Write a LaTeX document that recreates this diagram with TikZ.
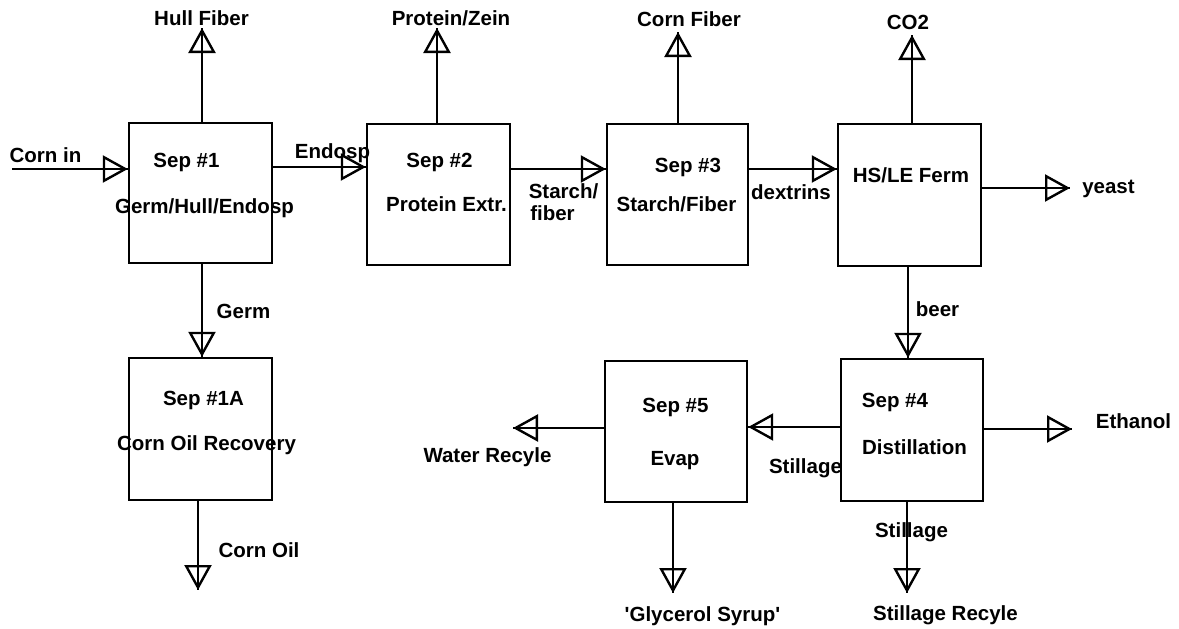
\documentclass[tikz,border=0pt]{standalone}
\usepackage{fontspec}
\setmainfont{Liberation Sans}
\usetikzlibrary{arrows.meta}
\begin{document}
\begin{tikzpicture}[x=1pt,y=-1pt,
  every node/.style={font=\bfseries\fontsize{20.5}{24}\selectfont, inner sep=0pt},
  box/.style={draw, line width=2.4pt, minimum width=142pt, minimum height=141pt},
  lbl/.style={anchor=base},
  flow/.style={line width=2.4pt, -{Triangle[open, length=25pt, width=27pt]}, postaction={draw, arrows=-}}
]
\fill[white] (0,0) rectangle (1179,629);
\useasboundingbox (0,0) rectangle (1179,629);

% boxes
\node[box, minimum width=143pt, minimum height=140pt] (b1) at (200.5,193) {};
\node[box, minimum width=143pt] (b2) at (438.5,194.5) {};
\node[box, minimum width=141pt] (b3) at (677.5,194.5) {};
\node[box, minimum width=143pt, minimum height=142pt] (b4) at (909.5,195) {};
\node[box, minimum width=143pt, minimum height=142pt] (b1a) at (200.5,429) {};
\node[box] (b5) at (676,431.5) {};
\node[box, minimum height=142pt] (b6) at (912,430) {};

% texts inside boxes
\node[lbl] (t1a) at (186.5,167) {Sep \#1};
\node[lbl] (t1b) at (204.5,213) {Germ/Hull/Endosp};
\node[lbl] (t2a) at (439.5,167) {Sep \#2};
\node[lbl] (t2b) at (446.5,211) {Protein Extr.};
\node[lbl] (t3a) at (688,172) {Sep \#3};
\node[lbl] (t3b) at (676.5,211) {Starch/Fiber};
\node[lbl] (t4a) at (911,182) {HS/LE Ferm};
\node[lbl] (t1Aa) at (203.5,405) {Sep \#1A};
\node[lbl] (t1Ab) at (206.5,450) {Corn Oil Recovery};
\node[lbl] (t5a) at (675.5,412) {Sep \#5};
\node[lbl] (t5b) at (675,465) {Evap};
\node[lbl] (t6a) at (895,407) {Sep \#4};
\node[lbl] (t6b) at (914.5,454) {Distillation};

% stream labels
\node[lbl] (lcorn) at (45.5,162) {Corn in};
\node[lbl] (lhull) at (201.5,25) {Hull Fiber};
\node[lbl] (lendo) at (332.5,158) {Endosp};
\node[lbl] (lprot) at (451,25) {Protein/Zein};
\node[lbl] (lsf1) at (563.5,198) {Starch/};
\node[lbl] (lsf2) at (552.5,220) {fiber};
\node[lbl] (lcf) at (689,27) {Corn Fiber};
\node[lbl] (ldex) at (791,199) {dextrins};
\node[lbl] (lco2) at (908,30) {CO2};
\node[lbl] (lyeast) at (1108.5,193) {yeast};
\node[lbl] (lbeer) at (937.5,316) {beer};
\node[lbl] (lgerm) at (243.5,318) {Germ};
\node[lbl] (loil) at (259,557) {Corn Oil};
\node[lbl] (lwater) at (487.5,462) {Water Recyle};
\node[lbl] (lstl) at (805.5,473) {Stillage};
\node[lbl] (leth) at (1133.5,428) {Ethanol};
\node[lbl] (lstb) at (911.5,537) {Stillage};
\node[lbl] (lgly) at (702.5,621) {\textquotesingle Glycerol Syrup\textquotesingle};
\node[lbl] (lstr) at (945.5,620) {Stillage Recyle};

% free ends / helper coordinates
\coordinate (cin) at (12,169);
\coordinate (hf) at (202,28);
\coordinate (e1) at (0,167);
\coordinate (g1) at (202,0);
\coordinate (co) at (198,590);
\coordinate (pz) at (437,28);
\coordinate (sf) at (0,169);
\coordinate (cf) at (678,32);
\coordinate (dx) at (0,169);
\coordinate (co2) at (912,35);
\coordinate (ye) at (1070,188);
\coordinate (be) at (908,0);
\coordinate (et) at (1072,429);
\coordinate (st) at (0,427);
\coordinate (wr) at (513,428);
\coordinate (gs) at (673,593);
\coordinate (sr) at (907,593);

% connectors
\draw[flow] (cin) -- (cin -| b1.west);
\draw[flow] (hf |- b1.north) -- (hf);
\draw[flow] (e1 -| b1.east) -- (e1 -| b2.west);
\draw[flow] (g1 |- b1.south) -- (g1 |- b1a.north);
\draw[flow] (co |- b1a.south) -- (co);
\draw[flow] (pz |- b2.north) -- (pz);
\draw[flow] (sf -| b2.east) -- (sf -| b3.west);
\draw[flow] (cf |- b3.north) -- (cf);
\draw[flow] (dx -| b3.east) -- (dx -| b4.west);
\draw[flow] (co2 |- b4.north) -- (co2);
\draw[flow] (ye -| b4.east) -- (ye);
\draw[flow] (be |- b4.south) -- (be |- b6.north);
\draw[flow] (et -| b6.east) -- (et);
\draw[flow] (st -| b6.west) -- (st -| b5.east);
\draw[flow] (wr -| b5.west) -- (wr);
\draw[flow] (gs |- b5.south) -- (gs);
\draw[flow] (sr |- b6.south) -- (sr);
\end{tikzpicture}
\end{document}
